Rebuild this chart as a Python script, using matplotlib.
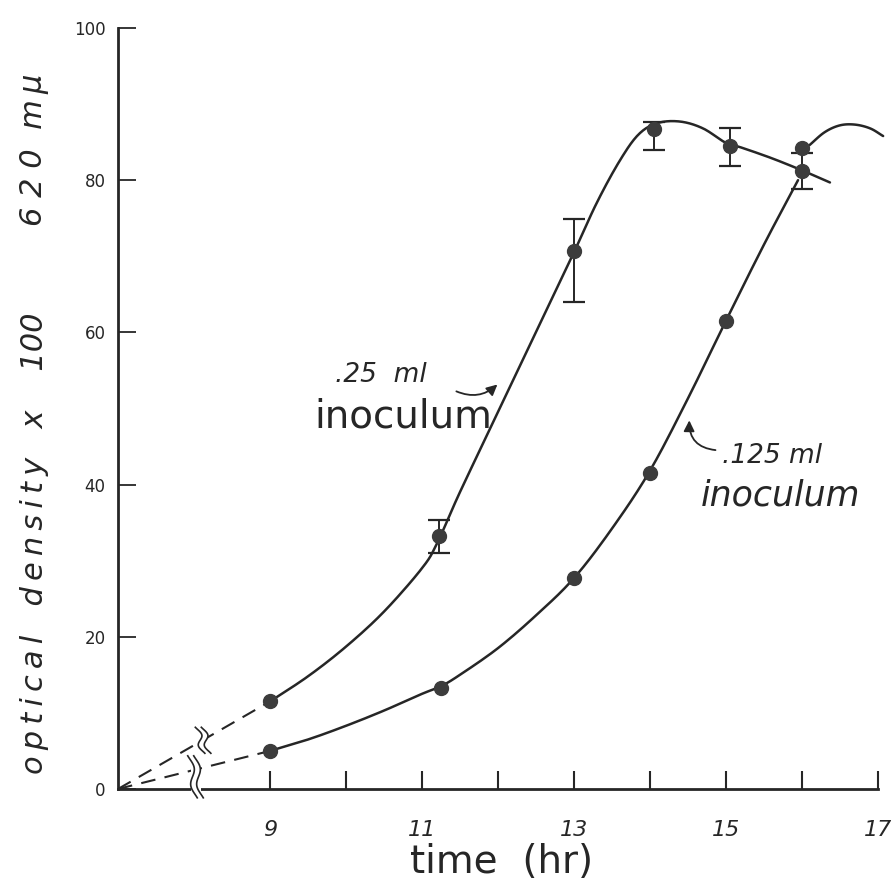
"""
optical density growth curves, two inoculum sizes
"""

import numpy as np
import matplotlib
matplotlib.use('Agg')
from matplotlib import pyplot as plt
from matplotlib import transforms

plt.rcParams['font.family'] = ['DejaVu Sans']

# measured points
t_25 = [9.0, 11.22, 13.0, 14.05, 15.05, 16.0]
od_25 = [11.5, 33.2, 70.7, 86.7, 84.5, 81.2]
lo_25 = [11.5, 31.0, 64.0, 84.0, 81.9, 78.9]
hi_25 = [11.5, 35.4, 74.9, 87.7, 86.9, 83.6]

t_125 = [9.0, 11.25, 13.0, 14.0, 15.0, 16.0]
od_125 = [5.0, 13.3, 27.7, 41.5, 61.5, 84.2]

# hand drawn curves
curve25_x = [9.0, 9.5, 10.0, 10.5, 11.0, 11.2, 11.5, 12.0, 12.5, 13.0, 13.3, 13.6,
             13.85, 14.1, 14.4, 14.7, 15.0, 15.2, 15.6, 16.0, 16.37]
curve25_y = [11.5, 14.8, 18.7, 23.3, 29.0, 32.3, 39.0, 49.5, 60.0, 70.5, 77.0, 82.5,
             86.0, 87.5, 87.7, 86.8, 84.9, 84.3, 82.9, 81.3, 79.7]
curve125_x = [9.0, 9.5, 10.0, 10.5, 11.0, 11.25, 11.5, 12.0, 12.5, 13.0, 13.5, 14.0,
              14.5, 15.0, 15.5, 15.95]
curve125_y = [5.0, 6.5, 8.3, 10.3, 12.5, 13.5, 15.0, 18.5, 22.8, 27.7, 34.2, 41.8,
              51.3, 61.5, 71.5, 80.0]
arc125_x = [16.1, 16.3, 16.5, 16.7, 16.9, 17.07]
arc125_y = [84.6, 86.3, 87.2, 87.3, 86.8, 85.8]
# dashed extrapolation back to zero time
dash25_x = [7.0, 9.0]
dash25_y = [0.0, 11.5]
dash125_x = [7.0, 9.0]
dash125_y = [0.0, 5.0]

ink = '#262626'
dot = '#3c3c3c'
thin = '\u2009'


def smooth(xs, ys, n=12):
    # catmull-rom through the read points, just for drawing
    p = np.column_stack([xs, ys]).astype(float)
    p = np.vstack([2 * p[0] - p[1], p, 2 * p[-1] - p[-2]])
    out = []
    for i in range(1, len(p) - 2):
        p0, p1, p2, p3 = p[i - 1], p[i], p[i + 1], p[i + 2]
        for t in np.linspace(0, 1, n, endpoint=False):
            out.append(0.5 * ((2 * p1) + (-p0 + p2) * t
                              + (2 * p0 - 5 * p1 + 4 * p2 - p3) * t ** 2
                              + (-p0 + 3 * p1 - 3 * p2 + p3) * t ** 3))
    out.append(p[-2])
    out = np.array(out)
    return out[:, 0], out[:, 1]


fig = plt.figure(figsize=(8.96, 8.88), dpi=100)
ax = fig.add_axes([0.1317, 0.1115, 0.848, 0.857])
ax.set_xlim(7, 17)
ax.set_ylim(0, 100)

for cx, cy in [(curve25_x, curve25_y), (curve125_x, curve125_y), (arc125_x, arc125_y)]:
    sx, sy = smooth(cx, cy)
    ax.plot(sx, sy, color=ink, lw=1.8, solid_capstyle='round', clip_on=False)
ax.plot(dash25_x, dash25_y, color=ink, lw=1.5, dashes=(7, 4.5))
ax.plot(dash125_x, dash125_y, color=ink, lw=1.5, dashes=(7, 4.5))

# error bars (.25 ml series)
err_lo = np.array(od_25) - np.array(lo_25)
err_hi = np.array(hi_25) - np.array(od_25)
ax.errorbar(t_25[1:], od_25[1:], yerr=[err_lo[1:], err_hi[1:]], fmt='none',
            ecolor=ink, elinewidth=1.4, capsize=8, capthick=1.6)

ax.plot(t_25, od_25, 'o', color=dot, ms=10, zorder=5)
ax.plot(t_125, od_125, 'o', color=dot, ms=10, zorder=5)


def squiggle(x, y, height):
    # small vertical double wavy break mark centred on (x, y), sizes in pixels
    s = np.linspace(-0.5, 0.5, 40)
    bx, by = ax.transData.transform((x, y))
    ax.add_patch(plt.Rectangle((bx - 5, by - height / 2), 10, height,
                               transform=transforms.IdentityTransform(),
                               facecolor='white', edgecolor='none', zorder=5.5,
                               clip_on=False))
    for off in (-3.0, 3.0):
        xs = bx + off + np.sin(s * 2 * np.pi * 1.2) * 3.0 - s * 6
        ys = by + s * height
        ax.add_line(plt.Line2D(xs, ys, transform=transforms.IdentityTransform(),
                               color=ink, lw=1.2, zorder=6, clip_on=False))


squiggle(8.12, 6.4, 26)
squiggle(8.02, 1.6, 42)

for side in ('top', 'right'):
    ax.spines[side].set_visible(False)
for side in ('left', 'bottom'):
    ax.spines[side].set_linewidth(2.0)
    ax.spines[side].set_color(ink)

ax.set_xticks(range(9, 18))
ax.set_xticklabels(['9', '', '11', '', '13', '', '15', '', '17'],
                   fontsize=16, style='italic', color=ink)
ax.set_yticks([0, 20, 40, 60, 80, 100])
ax.set_yticklabels(['0', '20', '40', '60', '80', '100'], fontsize=12, color=ink)
ax.tick_params(axis='x', direction='in', length=13, width=1.5, pad=22, colors=ink)
ax.tick_params(axis='y', direction='in', length=13, width=1.3, pad=9, colors=ink)

# annotations
ax.text(9.86, 54.4, '.25  ml', fontsize=19, style='italic', color=ink,
        ha='left', va='center')
ax.text(10.76, 48.9, 'inoculum', fontsize=28, color=ink, ha='center', va='center')
ax.annotate('', xy=(12.02, 53.4), xytext=(11.42, 52.4),
            arrowprops=dict(arrowstyle='-|>', color=ink, lw=1.3,
                            connectionstyle='arc3,rad=0.35', mutation_scale=16))
ax.text(14.95, 43.8, '.125 ml', fontsize=19, style='italic', color=ink,
        ha='left', va='center')
ax.text(15.72, 38.6, 'inoculum', fontsize=25, style='italic', color=ink,
        ha='center', va='center')
ax.annotate('', xy=(14.52, 48.8), xytext=(14.9, 44.5),
            arrowprops=dict(arrowstyle='-|>', color=ink, lw=1.3,
                            connectionstyle='arc3,rad=-0.5', mutation_scale=16))

ylab = thin.join('optical') + '   ' + thin.join('density') + '   x    100'
fig.text(0.038, 0.3885, ylab, rotation=90, fontsize=22,
         style='italic', color=ink, ha='center', va='center')
fig.text(0.038, 0.831, '6 2 0  m' + thin + '\u03bc', rotation=90, fontsize=22,
         style='italic', color=ink, ha='center', va='center')
fig.text(0.56, 0.029, 'time  (hr)', fontsize=28, color=ink, ha='center', va='center')

plt.savefig('out.png', dpi=100)
plt.close()
